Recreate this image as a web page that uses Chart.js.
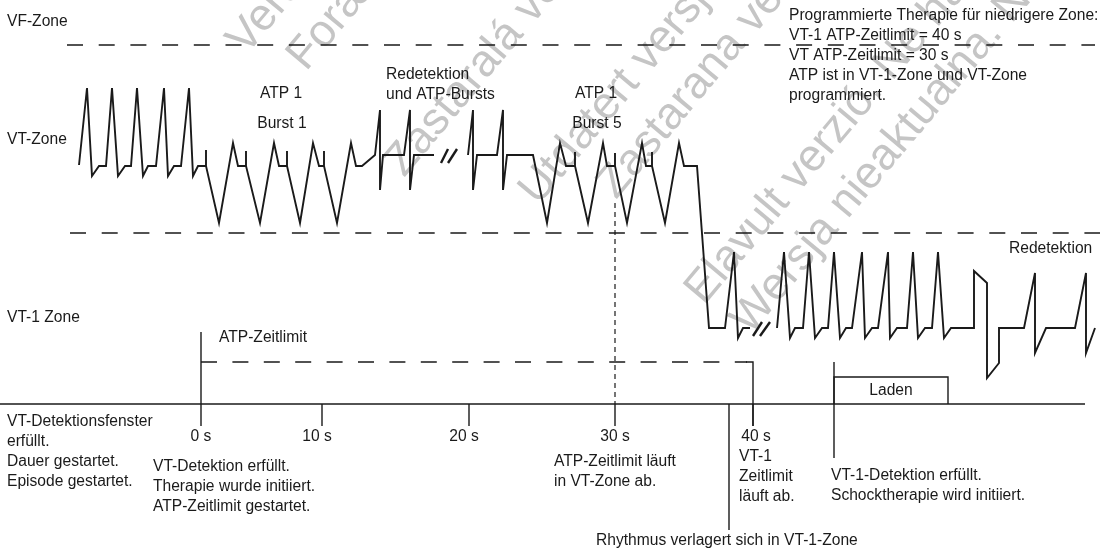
<!DOCTYPE html>
<html>
<head>
<meta charset="utf-8">
<script src="https://cdn.jsdelivr.net/npm/chart.js@4.4.1/dist/chart.umd.min.js"></script>
<style>
  html, body { margin: 0; padding: 0; background: #fff; }
</style>
</head>
<body>
<canvas id="myChart" width="1104" height="550"></canvas>
<script>
// DATA (diagram units: x = position along the time line, y = height in the zone strip)
const vtRhythm = [
  [79,165],[87,88],[92,176],[99,166],[106,166],
  [112,88],[118,176],[125,166],[131,166],
  [137,88],[143,176],[148,166],[156,166],
  [164,88],[168,176],[174,166],[181,166],
  [189,88],[193,176],[198,166],[206,166],[206,150],[206,166],
  [219,223],[233,143],[238,166],[246,166],[246,151],[246,166],
  [260,223],[274,143],[279,166],[287,166],[287,151],[287,166],
  [300,223],[313,143],[319,166],[324,166],[324,151],[324,166],
  [337,223],[351,143],[356,166],[362,166],[375,155],
  [380,110],[380,190],[383,155],[404,155],
  [410,110],[410,190],[414,155],[434,155]
];
const vtToVt1Rhythm = [
  [468,155],[473,110],[473,190],[477,155],[497,155],
  [503,110],[503,190],[507,155],[533,155],
  [547,223],[560,143],[566,166],[575,166],[575,152],[575,166],
  [588,223],[603,143],[607,166],[615,166],[615,153],[615,166],
  [627,223],[642,143],[646,166],[652,166],[652,152],[652,166],
  [665,223],[679,143],[684,166],[697,166],[709,328],
  [725,328],[734,252],[738,338],[743,328],[750,328]
];
const vt1Rhythm = [
  [777,328],[784,252],[790,338],[795,328],[803,328],
  [809,252],[815,338],[822,328],[828,328],
  [834,252],[840,338],[846,328],[852,328],
  [862,252],[865,338],[872,328],[878,328],
  [888,252],[890,338],[897,328],[907,328],
  [913,252],[918,338],[925,328],[932,328],
  [938,252],[944,338],[951,328],[974,328],
  [974,271],[987,283],[987,378],[999,363],[999,328],[1024,328],
  [1035,273],[1035,353],[1046,328],[1075,328],
  [1086,273],[1086,353],[1095,328]
];
const breakMarks = [
  [[441,163],[448,149]], [[448,163],[457,149]],
  [[753,336],[762,322]], [[760,336],[770,322]]
];

const zoneBoundaries = [
  [[67,45],[1095,45]],   // VF / VT
  [[70,233],[1100,233]]  // VT / VT-1
];
const atpTimeout = [[201,362],[747,362]];
const timeAxis = [[0,404],[1085,404]];
const tickPositions = [201, 322, 469, 615, 753];
const tickLabels = ["0 s", "10 s", "20 s", "30 s", "40 s"];
const tickLabelPositions = [201, 317, 464, 615, 756];
const rhythmShift = 729;
const vt1Detection = 834;
const chargeBox = [[834,404],[834,377],[948,377],[948,404]];

const zoneNames = ["VF-Zone", "VT-Zone", "VT-1 Zone"];
const zoneNameRows = [22, 140, 318];

const textBlocks = [
  // [lines, x, firstRowY, align]
  [["ATP 1"], 281, 94, "center"],
  [["Burst 1"], 282, 124, "center"],
  [["Redetektion", "und ATP-Bursts"], 386, 75, "left"],
  [["ATP 1"], 596, 94, "center"],
  [["Burst 5"], 597, 124, "center"],
  [["Redetektion"], 1009, 249, "left"],
  [["Programmierte Therapie für niedrigere Zone:", "VT-1 ATP-Zeitlimit = 40 s",
    "VT ATP-Zeitlimit = 30 s", "ATP ist in VT-1-Zone und VT-Zone", "programmiert."], 789, 16, "left"],
  [["ATP-Zeitlimit"], 219, 338, "left"],
  [["Laden"], 891, 391, "center"],
  [["VT-Detektionsfenster", "erfüllt.", "Dauer gestartet.", "Episode gestartet."], 7, 422, "left"],
  [["VT-Detektion erfüllt.", "Therapie wurde initiiert.", "ATP-Zeitlimit gestartet."], 153, 467, "left"],
  [["ATP-Zeitlimit läuft", "in VT-Zone ab."], 554, 462, "left"],
  [["VT-1", "Zeitlimit", "läuft ab."], 739, 457, "left"],
  [["VT-1-Detektion erfüllt.", "Schocktherapie wird initiiert."], 831, 476, "left"],
  [["Rhythmus verlagert sich in VT-1-Zone"], 596, 541, "left"]
];
const lineGap = 19.8;

const watermarks = [
  ["Veraltete Version. Nicht verwenden.", 246, 56],
  ["Forældet version. Må ikke anvendes.", 306, 72],
  ["Zastaralá verze. Nepoužívat.", 404, 178],
  ["Utdatert versjon. Skal ikke brukes.", 538, 206],
  ["Zastarana verzija. Nemojte upotrebljavati.", 616, 200],
  ["Elavult verzió. Ne használja!", 704, 306],
  ["Wersja nieaktualna. Nie używać.", 750, 336]
];

// HELPERS
const ink = "#1a1a1a";
function toPoints(arr) {
  return arr.map(([x, y]) => ({ x, y }));
}
function line(arr, width, dash) {
  return {
    data: toPoints(arr),
    showLine: true,
    borderColor: ink,
    borderWidth: width,
    borderDash: dash || [],
    pointRadius: 0,
    tension: 0,
    fill: false,
    borderJoinStyle: "miter",
    borderCapStyle: "butt"
  };
}

const datasets = [];
datasets.push(line(vtRhythm, 1.9));
datasets.push(line(vtToVt1Rhythm, 1.9));
datasets.push(line(vt1Rhythm, 1.9));
breakMarks.forEach((m) => datasets.push(line(m, 2.4)));
zoneBoundaries.forEach((b) => datasets.push(line(b, 1.4, [16, 15.7])));
datasets.push(line(atpTimeout, 1.4, [16, 15.4]));
datasets.push(line([[746,362],[753,362],[753,426]], 1.4));
datasets.push(line(timeAxis, 1.4));
tickPositions.forEach((t, i) => {
  const top = i === 0 ? 332 : 404;
  datasets.push(line([[t, top], [t, 426]], 1.4));
});
datasets.push(line([[615,203],[615,404]], 1.2, [5, 4]));
datasets.push(line([[rhythmShift,404],[rhythmShift,530]], 1.4));
datasets.push(line([[vt1Detection,362],[vt1Detection,458]], 1.4));
datasets.push(line(chargeBox, 1.4));

// TEXT
const textPlugin = {
  id: "diagramText",
  beforeDatasetsDraw(chart) {
    const { ctx, scales: { x, y } } = chart;
    ctx.save();
    ctx.fillStyle = "rgba(150,150,150,0.55)";
    ctx.font = "45px 'Liberation Sans', Arial, sans-serif";
    ctx.textBaseline = "alphabetic";
    ctx.textAlign = "left";
    watermarks.forEach(([text, px, py]) => {
      ctx.save();
      ctx.translate(x.getPixelForValue(px), y.getPixelForValue(py));
      ctx.rotate(-50 * Math.PI / 180);
      ctx.fillText(text, 0, 0);
      ctx.restore();
    });
    ctx.restore();
  },
  afterDatasetsDraw(chart) {
    const { ctx, scales: { x, y } } = chart;
    ctx.save();
    ctx.fillStyle = ink;
    ctx.font = "15.6px 'Liberation Sans', Arial, sans-serif";
    ctx.textBaseline = "middle";

    ctx.textAlign = "left";
    zoneNames.forEach((name, i) => {
      ctx.fillText(name, x.getPixelForValue(7), y.getPixelForValue(zoneNameRows[i]));
    });

    ctx.textAlign = "center";
    tickLabels.forEach((label, i) => {
      ctx.fillText(label, x.getPixelForValue(tickLabelPositions[i]), y.getPixelForValue(437));
    });

    textBlocks.forEach(([lines, px, py, align]) => {
      ctx.textAlign = align;
      lines.forEach((txt, k) => {
        ctx.fillText(txt, x.getPixelForValue(px), y.getPixelForValue(py + k * lineGap));
      });
    });
    ctx.restore();
  }
};

const ctx = document.querySelector("#myChart");
new Chart(ctx, {
  type: "scatter",
  data: { datasets },
  options: {
    responsive: false,
    animation: false,
    layout: { padding: 0 },
    plugins: {
      legend: { display: false },
      tooltip: { enabled: false }
    },
    scales: {
      x: { type: "linear", min: 0, max: 1104, display: false },
      y: { type: "linear", min: 0, max: 550, reverse: true, display: false }
    }
  },
  plugins: [textPlugin]
});
</script>
</body>
</html>
